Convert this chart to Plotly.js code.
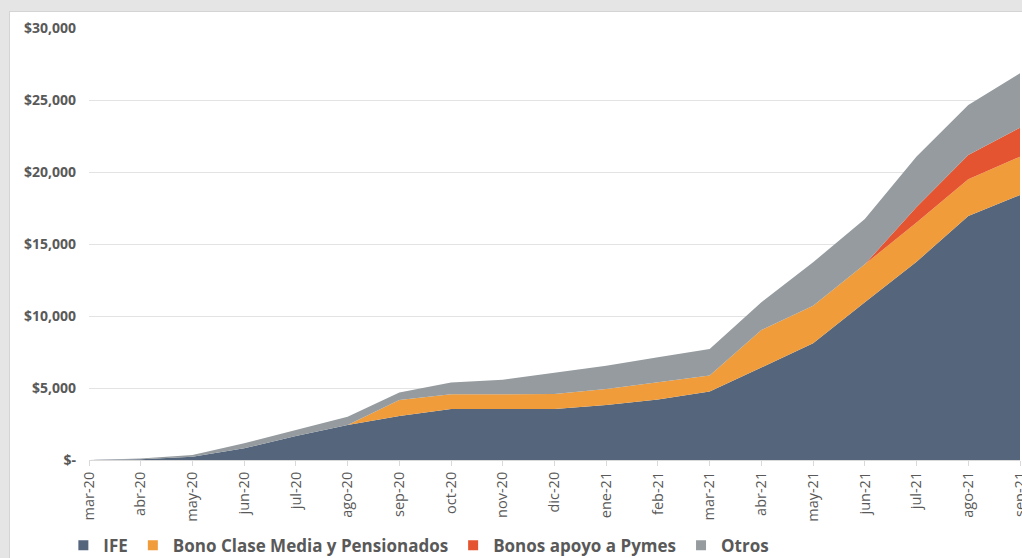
<!DOCTYPE html>
<html>
<head>
<meta charset="utf-8">
<script src="https://cdn.plot.ly/plotly-3.0.1.min.js"></script>
<style>
  html, body { margin: 0; padding: 0; width: 1022px; height: 558px; overflow: hidden; background: #e5e5e5; }
  #card { position: absolute; left: 9px; top: 11px; width: 1100px; height: 600px; background: #ffffff;
          border-left: 1px solid #d4d4d4; border-top: 1px solid #d4d4d4; }
  #chart { position: absolute; left: 0; top: 0; width: 1022px; height: 558px; }
</style>
</head>
<body>
<div id="card"></div>
<div id="chart"></div>
<script>
// Months (mar-20 .. sep-21)
const months = ["mar-20","abr-20","may-20","jun-20","jul-20","ago-20","sep-20","oct-20","nov-20","dic-20",
                "ene-21","feb-21","mar-21","abr-21","may-21","jun-21","jul-21","ago-21","sep-21"];

// Accumulated spending by program (millions)
const ife    = [0, 50, 230, 810, 1670, 2430, 3060, 3540, 3540, 3540, 3820, 4210, 4750, 6410, 8100, 10950, 13770, 16940, 18400];
const bono   = [0, 0, 0, 0, 0, 0, 1110, 1020, 1020, 1040, 1110, 1160, 1110, 2620, 2620, 2640, 2730, 2550, 2660];
const pymes  = [0, 0, 0, 0, 0, 0, 0, 0, 0, 0, 0, 0, 0, 0, 0, 0, 1070, 1690, 2020];
const otros  = [0, 50, 120, 350, 410, 580, 510, 830, 1020, 1510, 1620, 1760, 1840, 1920, 3010, 3150, 3510, 3470, 3770];

const yTickVals = [0, 5000, 10000, 15000, 20000, 25000, 30000];
const yTickText = ["$-", "$5,000", "$10,000", "$15,000", "$20,000", "$25,000", "$30,000"];

const seriesNames  = ["IFE", "Bono Clase Media y Pensionados", "Bonos apoyo a Pymes", "Otros"];
const seriesColors = ["#55667c", "#f09c3a", "#e55430", "#959b9e"];
const seriesData   = [ife, bono, pymes, otros];

const traces = [];
seriesData.forEach((vals, i) => {
  traces.push({
    type: "scatter", mode: "lines", x: months, y: vals,
    stackgroup: "one", fillcolor: seriesColors[i],
    line: { width: 0, color: seriesColors[i] },
    showlegend: false, hoverinfo: "skip"
  });
});
// square legend keys
seriesData.forEach((vals, i) => {
  traces.push({
    type: "scatter", mode: "markers", x: [null], y: [null],
    name: seriesNames[i],
    marker: { symbol: "square", size: 10, color: seriesColors[i] },
    showlegend: true
  });
});

const layout = {
  width: 1022, height: 558,
  margin: { l: 89, r: 2, t: 28, b: 98 },
  paper_bgcolor: "rgba(0,0,0,0)",
  plot_bgcolor: "rgba(0,0,0,0)",
  font: { family: "Open Sans, sans-serif", color: "#595959" },
  xaxis: {
    type: "category", range: [0, 18], automargin: false,
    tickangle: -90, tickfont: { size: 14.5, color: "#595959" },
    ticks: "outside", ticklen: 5, tickcolor: "#d9d9d9",
    showgrid: false, showline: true, linecolor: "#d9d9d9", linewidth: 1,
    zeroline: false, fixedrange: true
  },
  yaxis: {
    range: [0, 30000], tickvals: yTickVals, ticktext: yTickText, automargin: false,
    tickfont: { size: 14, color: "#595959", weight: 700 },
    ticklabelstandoff: 12,
    showgrid: true, gridcolor: "#e3e3e3", gridwidth: 1,
    zeroline: false, showline: false, fixedrange: true
  },
  legend: {
    orientation: "h", traceorder: "normal",
    xref: "container", x: 0.062, xanchor: "left",
    yref: "container", y: 0.022, yanchor: "middle",
    font: { size: 17, color: "#595959", weight: 700 },
    itemwidth: 30, tracegroupgap: 0
  },
  showlegend: true
};

Plotly.newPlot("chart", traces, layout, { displayModeBar: false, staticPlot: true });
</script>
</body>
</html>
